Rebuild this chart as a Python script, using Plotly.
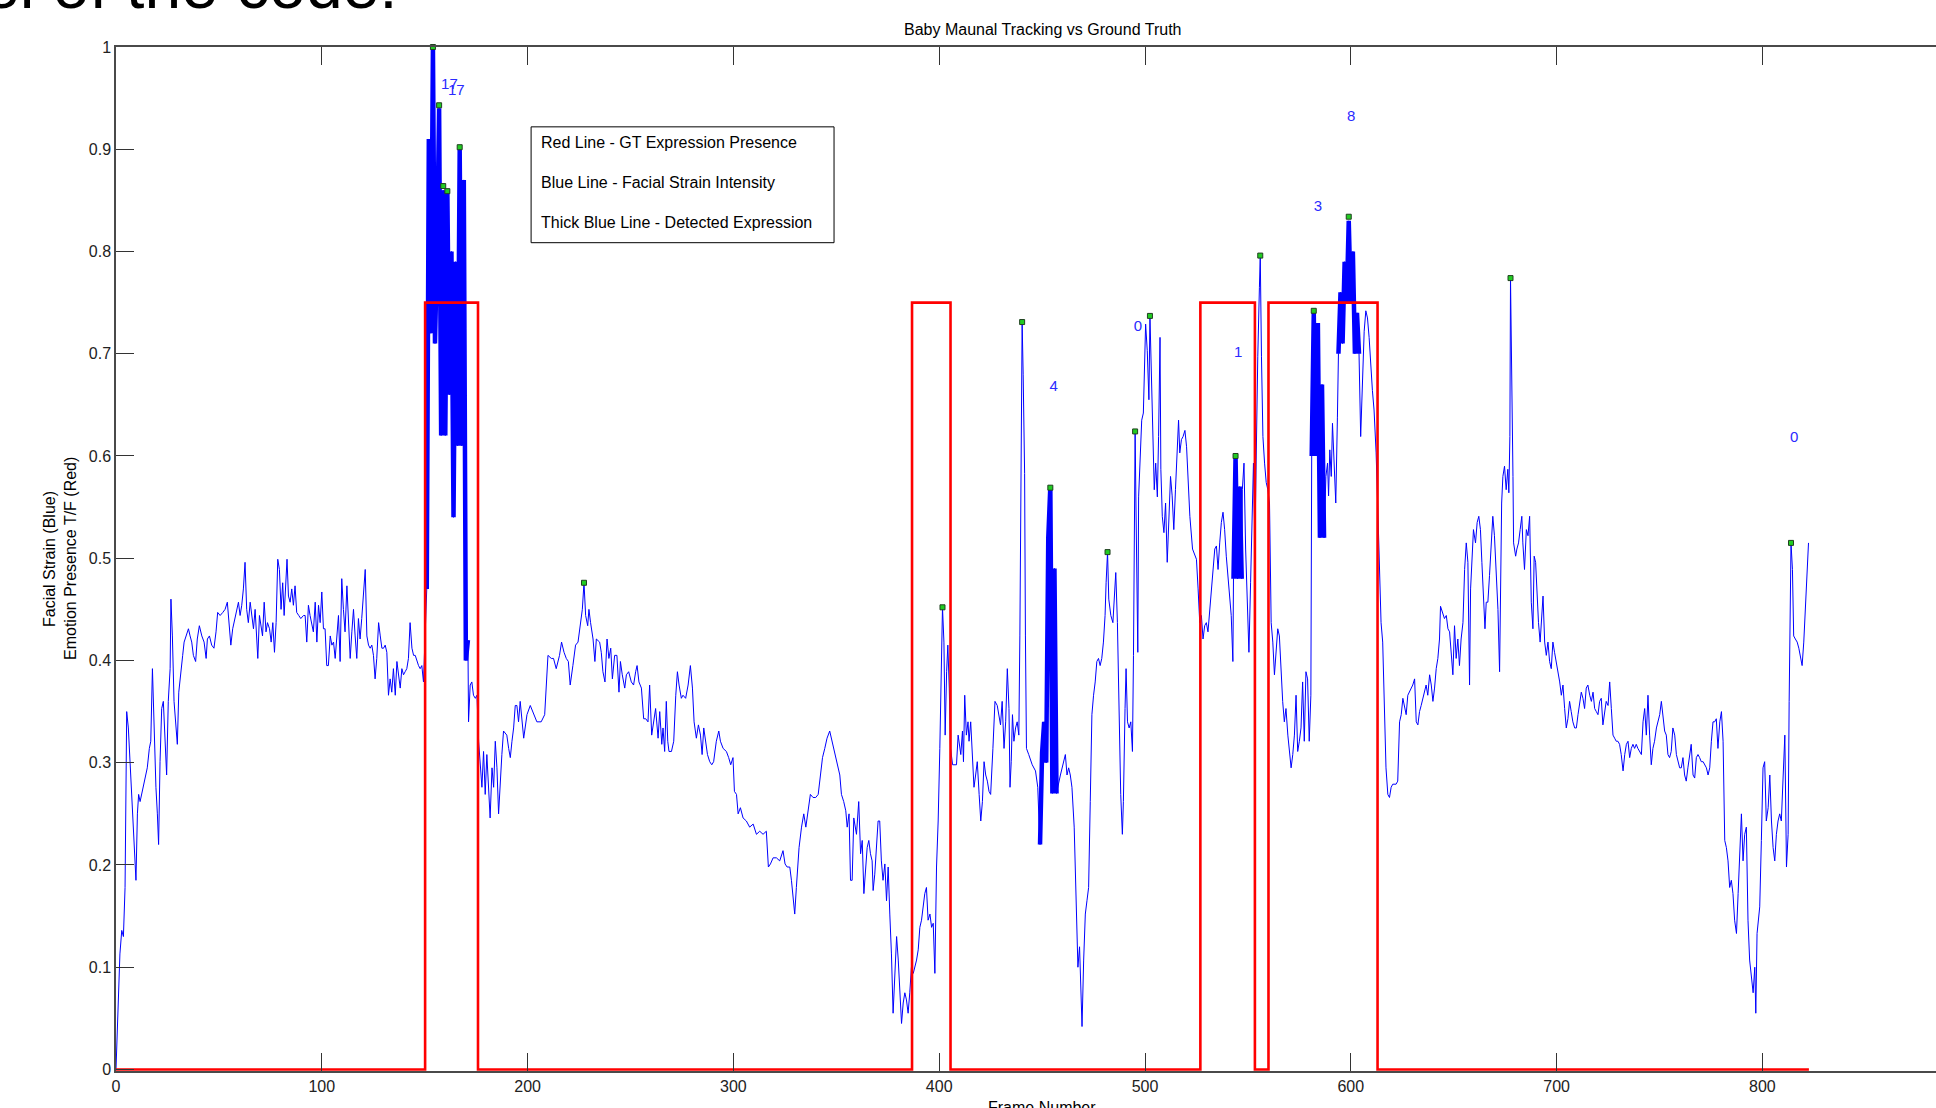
import plotly.graph_objects as go

# ---------------- data ----------------
# facial strain intensity, (frame, value) pairs, thin-line segments
strain_a = [(0.0,0.0),(1.1,0.071),(1.9,0.113),(2.8,0.136),(3.6,0.130),(4.4,0.178),(4.7,0.276),(5.2,0.350),(6.0,0.334),(6.8,0.301),(7.6,0.276),(8.4,0.230),(9.2,0.211),(9.7,0.185),(10.4,0.250),(11.0,0.269),(11.7,0.262),(13.3,0.276),(14.6,0.288),(15.2,0.295),(16.2,0.314),(16.9,0.321),(17.7,0.392),(18.5,0.334),(19.4,0.276),(20.1,0.250),(20.7,0.220),(21.4,0.301),(22.2,0.353),(23.0,0.360),(23.8,0.314),(24.6,0.288),(25.4,0.360),(26.3,0.392),(26.7,0.460),(27.4,0.424),(28.2,0.360),(29.2,0.327),(29.8,0.318),(30.5,0.369),(31.4,0.389),(32.4,0.405),(33.1,0.418),(34.0,0.424),(35.2,0.431),(36.0,0.424),(36.8,0.418),(37.6,0.405),(38.7,0.399),(39.5,0.421),(40.5,0.434),(41.7,0.424),(42.8,0.418),(43.8,0.402),(44.4,0.421),(45.4,0.424),(46.5,0.415),(47.6,0.412),(48.6,0.428),(49.4,0.447),(50.6,0.444),(51.9,0.447),(53.0,0.450),(54.1,0.457),(54.9,0.437),(55.8,0.415),(56.7,0.431),(57.4,0.437),(58.3,0.444),(59.5,0.457),(60.3,0.444),(61.1,0.454),(61.9,0.470),(62.7,0.496),(63.5,0.450),(64.3,0.437),(65.2,0.457),(66.0,0.441),(66.8,0.431),(67.6,0.450),(68.4,0.424),(68.9,0.402),(69.7,0.444),(70.3,0.437),(71.2,0.424),(72.0,0.457),(72.9,0.428),(73.6,0.437),(74.6,0.431),(75.4,0.418),(76.2,0.437),(77.0,0.408),(77.8,0.437),(78.6,0.499),(79.4,0.489),(80.2,0.450),(81.0,0.476),(81.7,0.444),(82.5,0.470),(83.1,0.499),(83.8,0.463),(84.6,0.457),(85.4,0.470),(86.2,0.454),(87.0,0.473),(87.8,0.447),(88.8,0.444),(89.8,0.441),(91.1,0.444),(91.9,0.444),(92.7,0.418),(93.5,0.454),(94.3,0.444),(95.1,0.437),(95.9,0.428),(96.8,0.457),(97.6,0.418),(98.4,0.454),(99.2,0.437),(100.0,0.467),(100.8,0.431),(101.6,0.431),(102.4,0.395),(103.2,0.395),(104.1,0.424),(104.9,0.415),(105.7,0.418),(106.5,0.402),(107.3,0.424),(108.1,0.444),(108.9,0.399),(109.7,0.480),(110.5,0.450),(111.3,0.428),(112.2,0.473),(113.0,0.437),(113.8,0.402),(114.6,0.428),(115.4,0.450),(116.2,0.424),(117.0,0.402),(117.8,0.441),(118.6,0.421),(119.4,0.441),(120.3,0.470),(121.1,0.489),(121.9,0.424),(122.7,0.415),(123.5,0.412),(124.3,0.415),(125.1,0.405),(125.9,0.382),(126.7,0.402),(127.6,0.437),(128.4,0.424),(129.2,0.412),(130.0,0.412),(130.8,0.415),(131.6,0.408),(132.4,0.366),(133.2,0.382),(134.0,0.369),(134.8,0.392),(135.7,0.366),(136.5,0.399),(137.3,0.386),(138.1,0.373),(138.9,0.392),(139.7,0.386),(140.5,0.389),(141.3,0.392),(142.1,0.402),(142.9,0.437),(143.8,0.412),(144.6,0.405),(145.4,0.405),(146.2,0.399),(147.0,0.395),(147.8,0.392),(148.6,0.395),(149.4,0.379),(150.2,0.42)]

detect_1 = [(151,0.47),(152,0.91),(153,0.72),(154,1.00),(155,0.71),(156,0.80),(157,0.94),(158,0.62),(159,0.86),(160,0.62),(161,0.86),(162,0.66),(163,0.80),(164,0.54),(165,0.79),(166,0.61),(167,0.90),(168,0.61),(169,0.87),(170,0.40),(171,0.42)]

strain_b = [(171.3,0.340),(172.1,0.376),(172.9,0.379),(173.7,0.366),(174.6,0.363),(175.4,0.366),(176.2,0.321),(177.0,0.295),(177.8,0.276),(178.6,0.311),(179.4,0.269),(180.2,0.308),(181.0,0.276),(181.8,0.246),(182.7,0.295),(183.5,0.276),(184.3,0.321),(185.1,0.295),(185.9,0.250),(186.7,0.282),(187.5,0.308),(188.3,0.331),(189.9,0.327),(190.8,0.314),(191.6,0.305),(192.4,0.321),(193.2,0.334),(194.0,0.356),(194.8,0.356),(195.6,0.340),(196.4,0.360),(198.1,0.324),(198.9,0.337),(199.7,0.347),(201.3,0.356),(202.9,0.347),(204.5,0.340),(206.6,0.340),(208.3,0.347),(209.9,0.405),(211.5,0.402),(212.6,0.402),(213.9,0.392),(215.5,0.405),(216.5,0.418),(217.7,0.408),(218.8,0.402),(219.8,0.399),(220.7,0.376),(222.0,0.395),(223.3,0.415),(224.5,0.418),(225.6,0.437),(226.6,0.450),(227.4,0.476),(228.2,0.444),(229.2,0.434),(229.8,0.450),(230.6,0.437),(231.8,0.421),(232.7,0.399),(233.4,0.421),(235.0,0.418),(235.8,0.408),(236.6,0.389),(237.6,0.379),(238.6,0.421),(239.5,0.402),(240.4,0.412),(241.2,0.382),(242.3,0.405),(243.4,0.405),(244.4,0.369),(245.1,0.399),(246.0,0.386),(247.2,0.373),(248.0,0.386),(249.1,0.389),(250.4,0.379),(251.5,0.376),(252.5,0.389),(253.2,0.395),(254.1,0.379),(255.3,0.373),(256.4,0.343),(257.4,0.343),(258.5,0.340),(259.3,0.376),(260.3,0.327),(261.3,0.340),(262.2,0.353),(263.4,0.324),(264.2,0.350),(265.2,0.318),(265.8,0.334),(266.6,0.311),(267.4,0.360),(268.1,0.321),(268.7,0.311),(269.9,0.311),(271.0,0.321),(272.0,0.366),(272.8,0.389),(273.6,0.376),(274.7,0.363),(275.5,0.366),(276.8,0.363),(278.0,0.376),(279.1,0.395),(280.1,0.373),(280.9,0.340),(282.0,0.324),(283.0,0.337),(284.0,0.327),(284.8,0.308),(285.6,0.334),(286.5,0.321),(287.4,0.308),(288.5,0.301),(289.5,0.298),(290.4,0.301),(291.7,0.321),(292.9,0.331),(293.7,0.321),(295.0,0.314),(296.6,0.311),(297.7,0.305),(298.7,0.298),(299.8,0.305),(300.5,0.272),(301.5,0.269),(302.3,0.250),(303.4,0.256),(304.7,0.246),(306.3,0.243),(307.9,0.237),(309.6,0.240),(311.2,0.230),(312.8,0.233),(314.4,0.230),(316.0,0.233),(317.0,0.198),(318.0,0.201),(319.3,0.207),(320.9,0.207),(322.5,0.204),(324.1,0.214),(325.1,0.201),(326.1,0.198),(327.4,0.198),(328.2,0.185),(329.0,0.165),(329.8,0.152),(330.6,0.178),(331.9,0.217),(333.1,0.237),(334.2,0.250),(335.2,0.237),(336.3,0.256),(337.4,0.269),(338.7,0.266),(340.0,0.266),(341.2,0.269),(342.0,0.282),(343.3,0.305),(344.4,0.314),(345.5,0.324),(346.8,0.331),(347.6,0.324),(348.4,0.318),(349.3,0.311),(350.1,0.305),(350.9,0.295),(351.7,0.288),(352.5,0.269),(353.6,0.262),(354.6,0.253),(355.3,0.237),(356.2,0.250),(356.9,0.185),(357.7,0.185),(358.5,0.246),(359.8,0.230),(360.9,0.262),(361.8,0.211),(362.6,0.224),(363.4,0.172),(364.3,0.204),(365.0,0.217),(365.8,0.224),(366.6,0.211),(367.4,0.204),(367.9,0.175),(368.7,0.191),(369.5,0.217),(370.3,0.243),(371.1,0.243),(371.9,0.204),(372.7,0.185),(373.6,0.201),(374.4,0.165),(375.2,0.198),(376.0,0.152),(376.8,0.113),(377.6,0.055),(378.4,0.100),(379.3,0.130),(380.1,0.107),(380.9,0.075),(381.7,0.045),(382.5,0.065),(383.3,0.075),(384.1,0.068),(384.9,0.055),(385.7,0.075),(386.5,0.100),(387.4,0.094),(388.2,0.100),(389.0,0.107),(389.8,0.117),(390.6,0.139),(391.4,0.146),(392.2,0.159),(393.0,0.172),(393.8,0.178),(394.6,0.146),(395.5,0.152),(396.3,0.139),(397.1,0.143),(397.9,0.094),(398.7,0.198),(399.5,0.243),(400.3,0.314),(401.1,0.402),(401.6,0.452),(402.3,0.418),(402.9,0.327),(403.6,0.389),(404.2,0.415),(404.9,0.373),(405.5,0.314),(406.5,0.298),(408.4,0.298),(409.2,0.327),(409.7,0.321),(410.5,0.308),(411.3,0.331),(411.8,0.301),(412.4,0.366),(413.2,0.327),(414.0,0.340),(414.5,0.321),(415.3,0.340),(416.1,0.314),(416.9,0.276),(417.7,0.288),(418.5,0.301),(419.4,0.269),(420.2,0.243),(421.0,0.262),(421.8,0.301),(422.6,0.288),(423.4,0.282),(424.2,0.272),(425.0,0.269),(426.1,0.314),(427.1,0.360),(428.2,0.356),(429.0,0.347),(429.8,0.337),(430.6,0.360),(431.5,0.314),(432.3,0.340),(433.1,0.392),(433.9,0.353),(434.4,0.276),(435.0,0.301),(435.6,0.347),(436.3,0.321),(437.1,0.334),(437.9,0.340),(438.7,0.327),(439.2,0.424),(439.8,0.616),(440.3,0.731),(440.8,0.680),(441.5,0.583),(441.9,0.424),(442.4,0.314),(443.5,0.308),(445.2,0.298),(446.8,0.292),(447.9,0.276),(448.5,0.243)]

detect_2 = [(449,0.22),(450,0.31),(451,0.34),(452,0.30),(453,0.52),(454,0.57),(455,0.27),(456,0.49),(457,0.27)]

strain_c = [(458.9,0.288),(460.5,0.301),(461.3,0.308),(462.1,0.288),(462.9,0.295),(463.7,0.288),(464.5,0.276),(465.6,0.237),(466.6,0.165),(467.4,0.100),(468.2,0.120),(469.4,0.042),(470.2,0.107),(471.0,0.152),(471.8,0.165),(472.6,0.178),(473.4,0.262),(474.2,0.347),(475.0,0.366),(475.8,0.379),(476.6,0.399),(477.4,0.402),(478.2,0.395),(479.0,0.402),(479.8,0.418),(480.6,0.444),(481.1,0.476),(481.8,0.506),(482.4,0.460),(483.4,0.444),(484.4,0.437),(485.0,0.454),(485.8,0.486),(486.6,0.437),(487.4,0.347),(488.2,0.269),(489.0,0.230),(489.5,0.262),(490.3,0.353),(490.8,0.392),(491.5,0.340),(492.3,0.334),(493.1,0.340),(493.9,0.311),(494.4,0.405),(494.8,0.541),(495.2,0.624),(495.6,0.554),(496.1,0.457),(496.5,0.408),(496.9,0.560),(497.6,0.606),(498.4,0.635),(499.2,0.642),(499.7,0.690),(500.3,0.729),(501.1,0.703),(501.9,0.655),(502.4,0.737),(503.2,0.677),(504.0,0.619),(504.5,0.567),(505.2,0.593),(506.0,0.560),(506.6,0.619),(507.3,0.716),(507.7,0.587),(508.4,0.541),(509.2,0.525),(510.0,0.554),(510.8,0.496),(511.6,0.541),(512.4,0.580),(513.2,0.561),(514.0,0.528),(514.8,0.567),(515.6,0.606),(516.3,0.635),(516.9,0.603),(517.7,0.616),(518.5,0.619),(519.4,0.625),(520.2,0.609),(521.0,0.567),(521.8,0.541),(523.1,0.509),(524.2,0.502),(525.0,0.499),(525.8,0.470),(526.6,0.437),(527.4,0.444),(528.2,0.421),(529.0,0.434),(529.8,0.437),(530.6,0.428),(531.5,0.450),(532.3,0.463),(533.1,0.489),(533.9,0.509),(534.7,0.512),(535.5,0.489),(536.3,0.515),(537.1,0.535),(537.9,0.545),(538.7,0.528),(539.5,0.502),(540.3,0.483),(541.1,0.463),(541.9,0.444),(542.7,0.399)]

detect_3 = [(543,0.48),(544,0.60),(545,0.48),(546,0.57),(547,0.48)]

strain_d = [(547.3,0.567),(548.1,0.593),(548.9,0.509),(549.7,0.463),(550.5,0.408),(551.3,0.476),(552.1,0.535),(552.7,0.593),(553.4,0.515),(554.0,0.619),(554.8,0.697),(555.6,0.765),(556.0,0.796),(556.6,0.697),(557.3,0.619),(558.1,0.593),(558.9,0.574),(559.7,0.567),(560.5,0.554),(561.3,0.437),(562.1,0.418),(562.9,0.386),(563.7,0.412),(564.5,0.431),(565.3,0.424),(566.1,0.386),(566.9,0.360),(567.7,0.340),(568.5,0.353),(569.4,0.327),(570.2,0.308),(571.0,0.295),(571.8,0.308),(572.6,0.327),(573.4,0.366),(574.2,0.311),(575.0,0.321),(575.8,0.334),(576.6,0.379),(577.4,0.321),(578.2,0.389),(579.0,0.382),(579.8,0.321),(580.6,0.366)]

detect_4 = [(581,0.60),(582,0.74),(583,0.60),(584,0.73),(585,0.52),(586,0.67),(587,0.52)]

strain_e = [(587.4,0.543),(587.9,0.580),(588.7,0.593),(589.2,0.561),(589.8,0.606),(590.5,0.580),(591.1,0.632),(591.9,0.593),(592.7,0.554),(593.5,0.638)]

detect_5 = [(594,0.70),(595,0.76),(596,0.71),(597,0.79),(598,0.75),(599,0.83),(600,0.75),(601,0.80),(602,0.70),(603,0.74),(604,0.70)]

strain_f = [(604.8,0.619),(605.6,0.671),(606.5,0.722),(607.3,0.742),(608.1,0.735),(608.9,0.716),(609.7,0.684),(610.5,0.664),(611.3,0.645),(612.3,0.603),(613.1,0.550),(613.9,0.500),(614.7,0.437),(615.5,0.418),(616.3,0.353),(617.1,0.295),(618.0,0.269),(618.8,0.266),(619.6,0.276),(620.4,0.279),(622.0,0.279),(622.8,0.282),(623.7,0.340),(624.5,0.347),(625.3,0.363),(626.1,0.353),(626.9,0.347),(627.7,0.366),(628.5,0.369),(629.3,0.373),(630.1,0.376),(631.0,0.382),(631.8,0.340),(632.6,0.337),(633.4,0.350),(634.2,0.356),(635.0,0.363),(635.8,0.369),(636.6,0.376),(637.4,0.366),(638.3,0.386),(639.1,0.376),(639.9,0.360),(640.7,0.373),(641.5,0.392),(642.3,0.402),(643.1,0.421),(643.6,0.453),(644.7,0.447),(645.5,0.441),(646.4,0.444),(647.2,0.431),(648.0,0.428),(648.8,0.402),(649.6,0.386),(650.4,0.434),(651.2,0.402),(652.0,0.421),(652.8,0.395),(653.6,0.421),(654.5,0.437),(655.3,0.489),(656.1,0.515),(656.9,0.496),(657.7,0.376),(658.2,0.470),(658.8,0.502),(659.6,0.528),(660.6,0.515),(661.4,0.535),(662.2,0.541),(663.0,0.528),(663.7,0.496),(664.5,0.457),(665.2,0.431),(665.8,0.457),(666.6,0.457),(667.4,0.483),(668.2,0.515),(669.0,0.541),(669.8,0.522),(670.7,0.489),(671.5,0.450),(672.3,0.389),(672.8,0.502),(673.3,0.554),(673.9,0.580),(674.7,0.590),(675.5,0.567),(676.3,0.587),(676.8,0.564),(677.3,0.619),(677.6,0.774),(678.1,0.710),(678.8,0.580),(679.1,0.515),(680.1,0.502),(680.7,0.509),(681.5,0.515),(682.3,0.528),(683.1,0.541),(683.6,0.515),(684.4,0.489),(685.3,0.528),(686.1,0.522),(686.9,0.541),(687.7,0.457),(688.5,0.431),(689.1,0.502),(689.8,0.496),(690.4,0.470),(691.2,0.437),(692.0,0.418),(692.8,0.444),(693.4,0.463),(694.2,0.418),(695.0,0.405),(695.8,0.418),(696.6,0.399),(697.4,0.392),(698.2,0.418),(699.0,0.408),(699.8,0.399),(700.6,0.392),(701.5,0.379),(702.3,0.366),(703.1,0.376),(703.9,0.353),(704.7,0.334),(705.5,0.343),(706.3,0.360),(707.1,0.350),(707.9,0.340),(708.8,0.334),(709.6,0.334),(710.4,0.347),(711.2,0.360),(712.0,0.369),(712.8,0.363),(713.6,0.353),(714.4,0.373),(715.2,0.376),(716.1,0.366),(716.9,0.360),(717.7,0.369),(718.5,0.353),(719.3,0.350),(720.1,0.347),(720.9,0.360),(721.7,0.363),(722.5,0.337),(723.3,0.347),(724.1,0.360),(725.0,0.356),(725.8,0.379),(726.6,0.353),(727.4,0.327),(728.2,0.324),(729.0,0.321),(729.8,0.321),(730.6,0.318),(731.4,0.308),(732.3,0.292),(733.1,0.308),(733.9,0.318),(734.7,0.321),(735.5,0.305),(736.3,0.314),(737.1,0.318),(737.9,0.314),(738.7,0.318),(739.5,0.314),(740.4,0.311),(741.2,0.308),(742.0,0.340),(742.8,0.353),(743.6,0.327),(744.4,0.366),(745.2,0.327),(746.0,0.298),(746.8,0.314),(747.6,0.321),(748.5,0.334),(749.3,0.340),(750.1,0.347),(750.9,0.360),(751.7,0.347),(752.5,0.331),(753.3,0.327),(754.1,0.308),(754.9,0.305),(755.7,0.311),(756.5,0.334),(757.4,0.327),(758.2,0.308),(759.0,0.301),(759.8,0.295),(760.6,0.295),(761.4,0.305),(762.2,0.288),(763.0,0.282),(763.8,0.295),(764.6,0.308),(765.4,0.318),(766.3,0.288),(767.1,0.285),(767.9,0.305),(768.7,0.308),(769.5,0.305),(770.3,0.301),(771.2,0.301),(772.0,0.298),(772.8,0.295),(773.6,0.288),(774.4,0.295),(775.2,0.321),(776.0,0.340),(776.8,0.340),(777.6,0.343),(778.4,0.314),(779.3,0.340),(780.1,0.350),(780.9,0.321),(781.7,0.224),(782.5,0.217),(783.3,0.204),(784.1,0.178),(784.9,0.185),(785.7,0.172),(786.5,0.146),(787.4,0.133),(788.2,0.172),(789.0,0.204),(789.8,0.250),(790.6,0.204),(791.4,0.230),(792.2,0.237),(793.0,0.146),(793.8,0.107),(794.7,0.088),(795.5,0.075),(796.3,0.100),(796.8,0.055),(797.4,0.133),(798.1,0.152),(798.7,0.159),(799.5,0.224),(800.3,0.295),(801.1,0.301),(801.9,0.243),(802.8,0.256),(803.6,0.288),(804.4,0.243),(805.2,0.217),(806.0,0.204),(806.8,0.230),(807.6,0.243),(808.4,0.250),(809.2,0.243),(810.0,0.282),(810.9,0.327),(811.7,0.198),(812.5,0.230),(813.0,0.360),(813.6,0.509),(813.9,0.515),(814.6,0.489),(815.2,0.424),(816.0,0.421),(816.9,0.418),(817.7,0.412),(818.5,0.402),(819.3,0.395),(820.1,0.418),(820.9,0.450),(821.7,0.483),(822.4,0.515)]

# ground-truth expression presence: onset / offset frames, level, last frame
gt_on = [150.2, 386.8, 526.9, 560.0]
gt_off = [175.9, 405.5, 553.4, 613.0]
gt_level = 0.75
last_frame = 822.6

# detected local peaks (green markers)
peak_frames = [154, 157, 159, 161, 167, 227.4, 401.6, 440.3, 454, 481.8, 495.2, 502.4, 544, 556.0, 582, 599, 677.6, 813.9]
peak_values = [1.0, 0.943, 0.864, 0.859, 0.902, 0.476, 0.452, 0.731, 0.569, 0.506, 0.624, 0.737, 0.60, 0.796, 0.742, 0.834, 0.774, 0.515]

# blue number labels
label_texts = ["17", "17", "4", "0", "1", "3", "8", "0"]
label_frames = [162.0, 165.4, 455.6, 496.5, 545.3, 584.0, 600.2, 815.4]
label_values = [0.963, 0.957, 0.667, 0.726, 0.700, 0.843, 0.931, 0.617]

legend_lines = ["Red Line - GT Expression Presence",
                "Blue Line - Facial Strain Intensity",
                "Thick Blue Line - Detected Expression"]

x_ticks = [0, 100, 200, 300, 400, 500, 600, 700, 800]
y_ticks = [0, 0.1, 0.2, 0.3, 0.4, 0.5, 0.6, 0.7, 0.8, 0.9, 1]
y_tick_text = ["0", "0.1", "0.2", "0.3", "0.4", "0.5", "0.6", "0.7", "0.8", "0.9", "1"]

# ---------------- build series ----------------
ordered = [strain_a, detect_1, strain_b, detect_2, strain_c, detect_3,
           strain_d, detect_4, strain_e, detect_5, strain_f]
thin_x, thin_y = [], []
for seg in ordered:
    for f, v in seg:
        thin_x.append(f)
        thin_y.append(v)

thick_x, thick_y = [], []
for seg in [detect_1, detect_2, detect_3, detect_4, detect_5]:
    for f, v in seg:
        thick_x.append(f)
        thick_y.append(v)
    thick_x.append(None)
    thick_y.append(None)

gt_x, gt_y = [0], [0]
for on, off in zip(gt_on, gt_off):
    gt_x += [on, on, off, off]
    gt_y += [0, gt_level, gt_level, 0]
gt_x.append(last_frame)
gt_y.append(0)

# ---------------- figure ----------------
W, H = 1936, 1108
ML, MT, MB = 116, 47, 37
plot_w = W - ML
px_per_frame = 2.058
x_max = plot_w / px_per_frame

FONT = "Liberation Sans, Arial, sans-serif"
BLUE = "#0000FF"

fig = go.Figure()
fig.add_trace(go.Scatter(x=thin_x, y=thin_y, mode="lines",
                         line=dict(color=BLUE, width=1), hoverinfo="skip"))
fig.add_trace(go.Scatter(x=thick_x, y=thick_y, mode="lines",
                         line=dict(color=BLUE, width=4.5), hoverinfo="skip"))
fig.add_trace(go.Scatter(x=gt_x, y=gt_y, mode="lines",
                         line=dict(color="#FF0000", width=2.6), hoverinfo="skip"))
fig.add_trace(go.Scatter(x=peak_frames, y=peak_values, mode="markers",
                         marker=dict(symbol="square", size=5, color="#22cc22",
                                     line=dict(color="#204020", width=1)),
                         cliponaxis=False, hoverinfo="skip"))
fig.add_trace(go.Scatter(x=label_frames, y=label_values, mode="text",
                         text=label_texts, textposition="middle center",
                         textfont=dict(family=FONT, size=15, color="#2a2aff"),
                         hoverinfo="skip"))

# legend-like text box
box_x0, box_x1 = 201.7, 348.9
box_y0, box_y1 = 0.8086, 0.9219
fig.add_shape(type="rect", x0=box_x0, x1=box_x1, y0=box_y0, y1=box_y1,
              xref="x", yref="y", line=dict(color="#000000", width=1),
              fillcolor="white", layer="above")
for txt, yy in zip(legend_lines, [0.9063, 0.8675, 0.8286]):
    fig.add_annotation(x=205.7, y=yy, xref="x", yref="y", text=txt,
                       showarrow=False, xanchor="left", yanchor="middle",
                       font=dict(family=FONT, size=16, color="#000000"))

# title
fig.add_annotation(x=450, y=1 + 18 / 1024, xref="x", yref="paper",
                   text="Baby Maunal Tracking vs Ground Truth", showarrow=False,
                   xanchor="center", yanchor="middle",
                   font=dict(family=FONT, size=16, color="#000000"))
# x label (partly cut off at the bottom)
fig.add_annotation(x=450, y=-(1107 - 1071) / 1024, xref="x", yref="paper",
                   text="Frame Number", showarrow=False,
                   xanchor="center", yanchor="middle",
                   font=dict(family=FONT, size=16, color="#000000"))
# y label, two lines
fig.add_annotation(x=(49 - ML) / plot_w, y=0.5, xref="paper", yref="paper",
                   text="Facial Strain (Blue)", showarrow=False, textangle=-90,
                   xanchor="center", yanchor="middle",
                   font=dict(family=FONT, size=16, color="#000000"))
fig.add_annotation(x=(70 - ML) / plot_w, y=0.5, xref="paper", yref="paper",
                   text="Emotion Presence T/F (Red)", showarrow=False, textangle=-90,
                   xanchor="center", yanchor="middle",
                   font=dict(family=FONT, size=16, color="#000000"))
# slide text cut at the top-left corner
fig.add_annotation(x=(-19 - ML) / plot_w, y=1 + (47 - 24) / 1024, xref="paper", yref="paper",
                   text="el of the code:", showarrow=False,
                   xanchor="left", yanchor="bottom",
                   font=dict(family=FONT, size=66, color="#000000"))

axis_col = "#4a4a4a"
fig.update_xaxes(range=[0, x_max], tickvals=x_ticks, ticktext=[str(t) for t in x_ticks],
                 ticks="inside", ticklen=18, tickwidth=1, tickcolor="#333333",
                 showline=True, linecolor=axis_col, linewidth=1.5, mirror="ticks",
                 showgrid=False, zeroline=False,
                 tickfont=dict(family=FONT, size=16, color="#222222"))
fig.update_yaxes(range=[-0.0015, 1], tickvals=y_ticks, ticktext=y_tick_text,
                 ticks="inside", ticklen=18, tickwidth=1, tickcolor="#333333",
                 showline=True, linecolor=axis_col, linewidth=1.5, mirror=False,
                 showgrid=False, zeroline=False,
                 tickfont=dict(family=FONT, size=16, color="#222222"))

fig.update_layout(width=W, height=H, showlegend=False,
                  margin=dict(l=ML, r=0, t=MT, b=MB, pad=0),
                  paper_bgcolor="white", plot_bgcolor="white")

# the page is a full-window picture: drop the browser's default body margin
fig.write_html("out.html", config={"displayModeBar": False},
               post_script="document.body.style.margin='0';document.body.style.overflow='hidden';")
